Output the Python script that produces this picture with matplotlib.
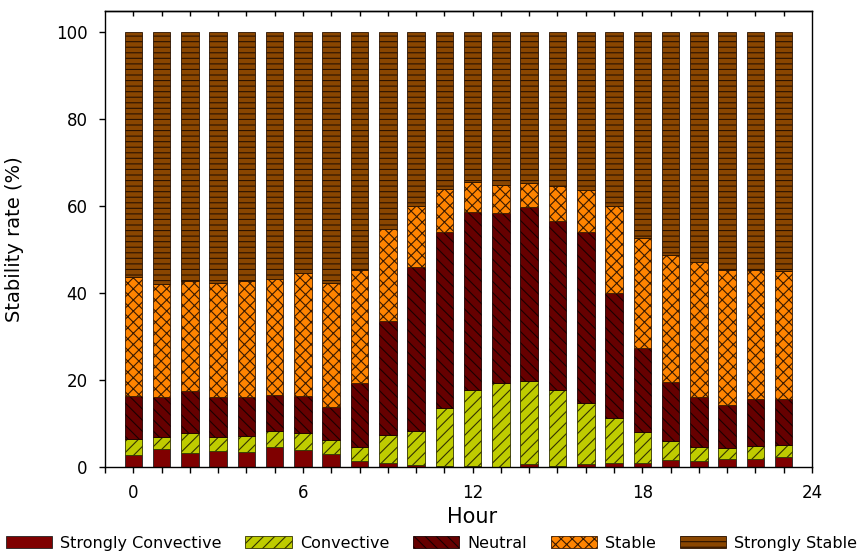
import numpy as np
import matplotlib
matplotlib.use("Agg")
import matplotlib.pyplot as plt
from matplotlib.patches import Patch

hours = list(range(24))
strongly_convective = [2.7, 4.1, 3.3, 3.7, 3.5, 4.7, 4.0, 2.9, 1.4, 0.9, 0.4, 0.2,
                       0.2, 0.1, 0.6, 0.2, 0.6, 1.0, 1.0, 1.5, 1.4, 1.8, 1.8, 2.3]
convective = [3.8, 2.7, 4.4, 3.2, 3.7, 3.6, 3.7, 3.4, 3.2, 6.5, 7.9, 13.4,
              17.6, 19.2, 19.1, 17.6, 14.0, 10.2, 7.0, 4.5, 3.2, 2.5, 3.1, 2.8]
neutral = [9.9, 9.4, 9.8, 9.3, 9.0, 8.2, 8.6, 7.4, 14.6, 26.2, 37.6, 40.5,
           40.8, 39.1, 40.0, 38.8, 39.4, 28.8, 19.4, 13.5, 11.4, 10.0, 10.7, 10.5]
stable = [27.3, 25.8, 25.2, 26.2, 26.5, 26.6, 28.3, 28.5, 26.1, 21.1, 14.0, 9.9,
          6.8, 6.3, 5.6, 7.9, 9.7, 19.9, 25.2, 29.2, 31.0, 31.0, 29.7, 29.4]
strongly_stable = [56.3, 58.0, 57.3, 57.6, 57.3, 56.9, 55.4, 57.8, 54.7, 45.3, 40.1, 36.0,
                   34.6, 35.3, 34.7, 35.5, 36.3, 40.1, 47.4, 51.3, 53.0, 54.7, 54.7, 55.0]

series_names = ["Strongly Convective", "Convective", "Neutral", "Stable", "Strongly Stable"]
series_values = [strongly_convective, convective, neutral, stable, strongly_stable]
colors = ["#7f0000", "#bfcc00", "#660000", "#ff8400", "#8a4600"]
hatches = [None, "///", "\\\\\\", "xxx", "---"]
hatch_edges = ["#222222", "#333300", "#1a0000", "#3a1a00", "#2a1200"]

xtick_labels = ["0", "6", "12", "18", "24"]

plt.rcParams['font.family'] = ['DejaVu Sans']
plt.rcParams['hatch.linewidth'] = 0.8

fig = plt.figure(figsize=(8.58, 5.53), dpi=100)
ax = fig.add_axes([105/858, 1-467/553, (812-105)/858, (467-11)/553])

x = np.array(hours)
bottom = np.zeros(len(hours))
handles = []
for name, vals, c, h, ec in zip(series_names, series_values, colors, hatches, hatch_edges):
    vals = np.array(vals)
    ax.bar(x, vals, width=0.62, bottom=bottom, color=c, edgecolor=ec,
           linewidth=0.6, hatch=h, label=name)
    bottom = bottom + vals
    handles.append(Patch(facecolor=c, edgecolor=ec, hatch=h, linewidth=0.6, label=name))

ax.set_xlim(-1, 24)
ax.set_ylim(0, 104.8)
ticks = list(range(-1, 25))
ax.set_xticks(ticks)
ax.set_xticklabels([xtick_labels[i // 6] if (i >= 0 and i % 6 == 0) else "" for i in ticks])
ax.set_yticks([0, 20, 40, 60, 80, 100])
ax.tick_params(axis='both', direction='out', length=4.5, width=1.0, labelsize=12, pad=8)
for s in ax.spines.values():
    s.set_linewidth(1.0)

top = ax.secondary_xaxis('top')
top.set_xticks(list(range(0, 24)))
top.tick_params(direction='in', length=3.5, width=1.0, labeltop=False)
top.spines['top'].set_linewidth(1.0)

ax.set_ylabel("Stability rate (%)", fontsize=14)
ax.yaxis.set_label_coords(-0.1146, 0.5)
ax.set_xlabel("Hour", fontsize=15)
ax.xaxis.set_label_coords(0.519, -0.088)

fig.legend(handles=handles, loc='center', bbox_to_anchor=(0.503, 0.018), ncol=5,
           frameon=False, fontsize=11.5, handlelength=2.9, handleheight=0.85,
           handletextpad=0.5, columnspacing=1.5, borderaxespad=0, borderpad=0)

fig.savefig("out.png", dpi=100)
